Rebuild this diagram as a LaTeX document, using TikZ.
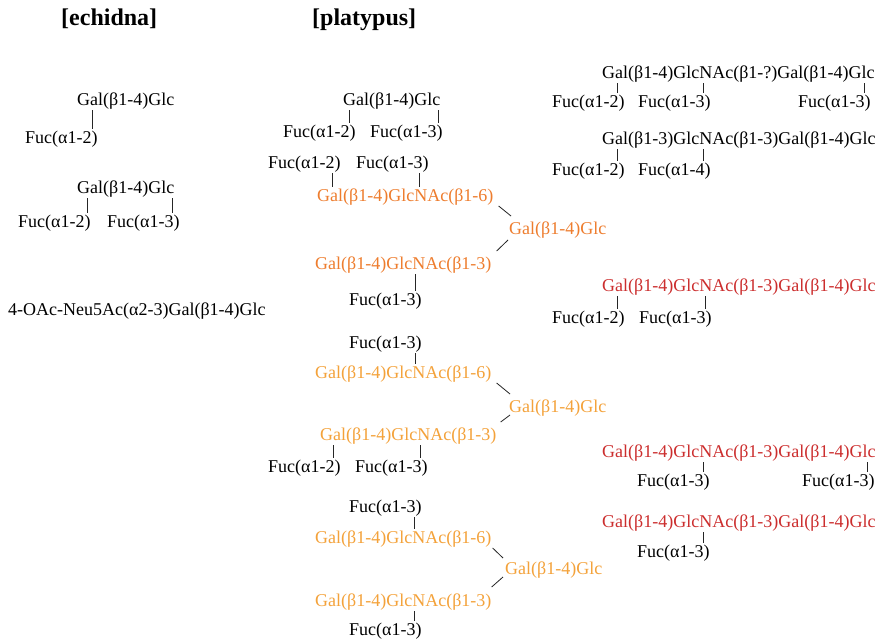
\documentclass[tikz,border=0pt]{standalone}
\usepackage{fontspec}
\setmainfont{Liberation Serif}
\usetikzlibrary{calc}
\definecolor{orA}{HTML}{EE7D2E}
\definecolor{orB}{HTML}{F4A23A}
\definecolor{rd}{HTML}{CC2E2E}
\newcommand\lk[3]{%
  \coordinate (lx) at (#3,0);
  \draw[lnk] ($(#1.base -| lx)+(0,5)$) -- ($(#2.base -| lx)+(0,-14)$);}
\begin{document}
\begin{tikzpicture}[x=1pt,y=-1pt,
  t/.style={inner sep=0pt,anchor=base west,font=\fontsize{18}{20}\selectfont},
  ttl/.style={inner sep=0pt,anchor=base west,font=\fontsize{24}{26}\selectfont\bfseries},
  oa/.style={t,text=orA},
  ob/.style={t,text=orB},
  rr/.style={t,text=rd},
  lnk/.style={line width=0.8pt,black!85}]
\useasboundingbox[fill=white] (0,0) rectangle (882,640);
% titles
\node[ttl] (t1) at (61,25) {[echidna]};
\node[ttl] (t2) at (312,25) {[platypus]};
% echidna
\node[t] (e1) at (77,105) {Gal(β1-4)Glc};
\node[t] (e1f) at (25,143) {Fuc(α1-2)};
\lk{e1}{e1f}{92}
\node[t] (e2) at (77,193) {Gal(β1-4)Glc};
\node[t] (e2a) at (18,227) {Fuc(α1-2)};
\node[t] (e2b) at (107,227) {Fuc(α1-3)};
\lk{e2}{e2a}{87}
\lk{e2}{e2b}{172}
\node[t] (e3) at (8,315) {4-OAc-Neu5Ac(α2-3)Gal(β1-4)Glc};
% platypus group 1
\node[t] (p1) at (343,105) {Gal(β1-4)Glc};
\node[t] (p1a) at (283,137) {Fuc(α1-2)};
\node[t] (p1b) at (370,137) {Fuc(α1-3)};
\lk{p1}{p1a}{349}
\lk{p1}{p1b}{438}
% group 2
\node[t] (p2a) at (268,168) {Fuc(α1-2)};
\node[t] (p2b) at (356,168) {Fuc(α1-3)};
\node[oa] (p2c) at (317,201) {Gal(β1-4)GlcNAc(β1-6)};
\node[oa] (p2d) at (509,234) {Gal(β1-4)Glc};
\node[oa] (p2e) at (315,269) {Gal(β1-4)GlcNAc(β1-3)};
\node[t] (p2f) at (349,305) {Fuc(α1-3)};
\lk{p2a}{p2c}{332}
\lk{p2b}{p2c}{419}
\lk{p2e}{p2f}{415}
\draw[lnk] ($(p2c.base east)+(5,5)$) -- ($(p2d.base west)+(2,-18)$);
\draw[lnk] ($(p2d.base west)+(-1,6)$) -- ($(p2e.base east)+(5,-18)$);
% group 3
\node[t] (p3a) at (349,348) {Fuc(α1-3)};
\node[ob] (p3b) at (315,378) {Gal(β1-4)GlcNAc(β1-6)};
\node[ob] (p3c) at (509,412) {Gal(β1-4)Glc};
\node[ob] (p3d) at (320,440) {Gal(β1-4)GlcNAc(β1-3)};
\node[t] (p3e) at (268,472) {Fuc(α1-2)};
\node[t] (p3f) at (355,472) {Fuc(α1-3)};
\lk{p3a}{p3b}{415}
\lk{p3d}{p3e}{333}
\lk{p3d}{p3f}{420}
\draw[lnk] ($(p3b.base east)+(5,5)$) -- ($(p3c.base west)+(1,-18)$);
\draw[lnk] ($(p3c.base west)+(1,3)$) -- ($(p3d.base east)+(4,-18)$);
% group 4
\node[t] (p4a) at (349,512) {Fuc(α1-3)};
\node[ob] (p4b) at (315,543) {Gal(β1-4)GlcNAc(β1-6)};
\node[ob] (p4c) at (505,574) {Gal(β1-4)Glc};
\node[ob] (p4d) at (315,606) {Gal(β1-4)GlcNAc(β1-3)};
\node[t] (p4e) at (349,635) {Fuc(α1-3)};
\lk{p4a}{p4b}{414}
\lk{p4d}{p4e}{414}
\draw[lnk] ($(p4b.base east)+(1,5)$) -- ($(p4c.base west)+(-2,-16)$);
\draw[lnk] ($(p4c.base west)+(-2,3)$) -- ($(p4d.base east)+(0,-19)$);
% right column
\node[t] (r1) at (602,78) {Gal(β1-4)GlcNAc(β1-?)Gal(β1-4)Glc};
\node[t] (r1a) at (552,107) {Fuc(α1-2)};
\node[t] (r1b) at (638,107) {Fuc(α1-3)};
\node[t] (r1c) at (798,107) {Fuc(α1-3)};
\lk{r1}{r1a}{617}
\lk{r1}{r1b}{703}
\lk{r1}{r1c}{864}
\node[t] (r2) at (602,144) {Gal(β1-3)GlcNAc(β1-3)Gal(β1-4)Glc};
\node[t] (r2a) at (552,175) {Fuc(α1-2)};
\node[t] (r2b) at (638,175) {Fuc(α1-4)};
\lk{r2}{r2a}{617}
\lk{r2}{r2b}{703}
\node[rr] (r3) at (602,291) {Gal(β1-4)GlcNAc(β1-3)Gal(β1-4)Glc};
\node[t] (r3a) at (552,323) {Fuc(α1-2)};
\node[t] (r3b) at (639,323) {Fuc(α1-3)};
\lk{r3}{r3a}{617}
\lk{r3}{r3b}{705}
\node[rr] (r4) at (602,457) {Gal(β1-4)GlcNAc(β1-3)Gal(β1-4)Glc};
\node[t] (r4a) at (637,486) {Fuc(α1-3)};
\node[t] (r4b) at (802,486) {Fuc(α1-3)};
\lk{r4}{r4a}{703}
\lk{r4}{r4b}{867}
\node[rr] (r5) at (602,527) {Gal(β1-4)GlcNAc(β1-3)Gal(β1-4)Glc};
\node[t] (r5a) at (637,557) {Fuc(α1-3)};
\lk{r5}{r5a}{703}
\end{tikzpicture}
\end{document}
